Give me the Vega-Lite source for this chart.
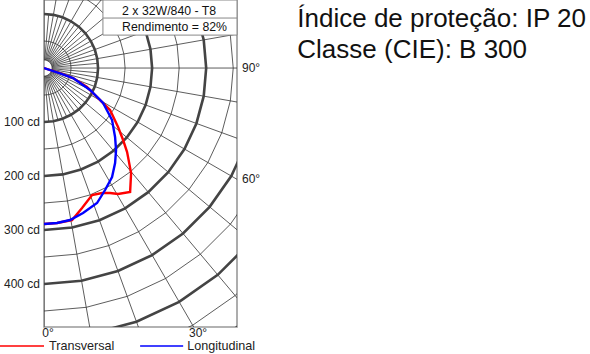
{
  "$schema": "https://vega.github.io/schema/vega-lite/v6.json",
  "width": 193,
  "height": 327,
  "autosize": "none",
  "padding": {"left": 44, "top": 0, "right": 353, "bottom": 27},
  "background": "white",
  "config": {"view": {"stroke": "#999999", "strokeWidth": 1.6}, "font": "Liberation Sans", "text": {"font": "Liberation Sans"}},
  "datasets": {
    "circles": [
      {"g": "c15", "type": "thin", "r": 15, "a": [0,10,20,30,40,50,60,70,80,90,100,110,120,130,140,150,160,170,180]},
      {"g": "c50", "type": "thin", "r": 50, "a": [0,10,20,30,40,50,60,70,80,90,100,110,120,130,140,150,160,170,180]},
      {"g": "c150", "type": "thin", "r": 150, "a": [0,10,20,30,40,50,60,70,80,90,100,110,120,130,140,150,160,170,180]},
      {"g": "c250", "type": "thin", "r": 250, "a": [0,10,20,30,40,50,60,70,80,90,100,110,120,130,140,150,160,170,180]},
      {"g": "c350", "type": "thin", "r": 350, "a": [0,10,20,30,40,50,60,70,80,90,100,110,120,130,140,150,160,170,180]},
      {"g": "c450", "type": "thin", "r": 450, "a": [0,10,20,30,40,50,60,70,80,90,100,110,120,130,140,150,160,170,180]},
      {"g": "c550", "type": "thin", "r": 550, "a": [0,10,20,30,40,50,60,70,80,90,100,110,120,130,140,150,160,170,180]},
      {"g": "c650", "type": "thin", "r": 650, "a": [0,10,20,30,40,50,60,70,80,90,100,110,120,130,140,150,160,170,180]},
      {"g": "c100", "type": "thick", "r": 100, "a": [0,10,20,30,40,50,60,70,80,90,100,110,120,130,140,150,160,170,180]},
      {"g": "c200", "type": "thick", "r": 200, "a": [0,10,20,30,40,50,60,70,80,90,100,110,120,130,140,150,160,170,180]},
      {"g": "c300", "type": "thick", "r": 300, "a": [0,10,20,30,40,50,60,70,80,90,100,110,120,130,140,150,160,170,180]},
      {"g": "c400", "type": "thick", "r": 400, "a": [0,10,20,30,40,50,60,70,80,90,100,110,120,130,140,150,160,170,180]},
      {"g": "c500", "type": "thick", "r": 500, "a": [0,10,20,30,40,50,60,70,80,90,100,110,120,130,140,150,160,170,180]},
      {"g": "c600", "type": "thick", "r": 600, "a": [0,10,20,30,40,50,60,70,80,90,100,110,120,130,140,150,160,170,180]}
    ],
    "rays": [
      {"g": "r0", "a": 0, "r": [15, 700]}, {"g": "r10", "a": 10, "r": [15, 700]}, {"g": "r20", "a": 20, "r": [15, 700]},
      {"g": "r30", "a": 30, "r": [15, 700]}, {"g": "r40", "a": 40, "r": [15, 700]}, {"g": "r50", "a": 50, "r": [15, 700]},
      {"g": "r60", "a": 60, "r": [15, 700]}, {"g": "r70", "a": 70, "r": [15, 700]}, {"g": "r80", "a": 80, "r": [15, 700]},
      {"g": "r90", "a": 90, "r": [15, 700]}, {"g": "r100", "a": 100, "r": [15, 700]}, {"g": "r110", "a": 110, "r": [15, 700]},
      {"g": "r120", "a": 120, "r": [15, 700]}, {"g": "r130", "a": 130, "r": [15, 700]}, {"g": "r140", "a": 140, "r": [15, 700]},
      {"g": "r150", "a": 150, "r": [15, 700]}, {"g": "r160", "a": 160, "r": [15, 700]}, {"g": "r170", "a": 170, "r": [15, 700]},
      {"g": "r180", "a": 180, "r": [15, 700]},
      {"g": "r5", "a": 5, "r": [15, 100]}, {"g": "r15", "a": 15, "r": [15, 100]}, {"g": "r25", "a": 25, "r": [15, 100]},
      {"g": "r35", "a": 35, "r": [15, 100]}, {"g": "r45", "a": 45, "r": [15, 100]}, {"g": "r55", "a": 55, "r": [15, 100]},
      {"g": "r65", "a": 65, "r": [15, 100]}, {"g": "r75", "a": 75, "r": [15, 100]}, {"g": "r85", "a": 85, "r": [15, 100]},
      {"g": "r95", "a": 95, "r": [15, 100]}, {"g": "r105", "a": 105, "r": [15, 100]}, {"g": "r115", "a": 115, "r": [15, 100]},
      {"g": "r125", "a": 125, "r": [15, 100]}, {"g": "r135", "a": 135, "r": [15, 100]}, {"g": "r145", "a": 145, "r": [15, 100]},
      {"g": "r155", "a": 155, "r": [15, 100]}, {"g": "r165", "a": 165, "r": [15, 100]}, {"g": "r175", "a": 175, "r": [15, 100]}
    ],
    "curves": [
      {"s": "Transversal", "x": 0, "y": 0},
      {"s": "Transversal", "x": 29.6, "y": -9.3},
      {"s": "Transversal", "x": 53.7, "y": -18.5},
      {"s": "Transversal", "x": 79.6, "y": -35.2},
      {"s": "Transversal", "x": 98.1, "y": -53.7},
      {"s": "Transversal", "x": 122.2, "y": -77.8},
      {"s": "Transversal", "x": 137, "y": -109.3},
      {"s": "Transversal", "x": 146.3, "y": -133.3},
      {"s": "Transversal", "x": 153.7, "y": -155.6},
      {"s": "Transversal", "x": 161.1, "y": -194.4},
      {"s": "Transversal", "x": 159.3, "y": -229.6},
      {"s": "Transversal", "x": 137, "y": -233.3},
      {"s": "Transversal", "x": 122.2, "y": -231.5},
      {"s": "Transversal", "x": 107.4, "y": -231.5},
      {"s": "Transversal", "x": 88.9, "y": -235.2},
      {"s": "Transversal", "x": 70.4, "y": -259.3},
      {"s": "Transversal", "x": 51.9, "y": -281.5},
      {"s": "Transversal", "x": 24.1, "y": -287},
      {"s": "Transversal", "x": 0, "y": -288.9},
      {"s": "Longitudinal", "x": 0, "y": 0},
      {"s": "Longitudinal", "x": 29.6, "y": -9.8},
      {"s": "Longitudinal", "x": 53.7, "y": -18.5},
      {"s": "Longitudinal", "x": 85.2, "y": -40.7},
      {"s": "Longitudinal", "x": 109.3, "y": -64.8},
      {"s": "Longitudinal", "x": 125.9, "y": -96.3},
      {"s": "Longitudinal", "x": 131.5, "y": -127.8},
      {"s": "Longitudinal", "x": 133.3, "y": -151.9},
      {"s": "Longitudinal", "x": 131.5, "y": -175.9},
      {"s": "Longitudinal", "x": 125.9, "y": -201.9},
      {"s": "Longitudinal", "x": 113, "y": -225.9},
      {"s": "Longitudinal", "x": 98.1, "y": -250},
      {"s": "Longitudinal", "x": 72.2, "y": -268.5},
      {"s": "Longitudinal", "x": 48.1, "y": -281.5},
      {"s": "Longitudinal", "x": 24.1, "y": -287},
      {"s": "Longitudinal", "x": 0, "y": -288.9}
    ],
    "legend": [
      {"s": "Transversal", "x1": -81.5, "x2": 0, "y": -514.8, "tx": 9.3},
      {"s": "Longitudinal", "x1": 177.8, "x2": 257.4, "y": -514.8, "tx": 264.8}
    ],
    "cdlabels": [
      {"t": "100 cd", "x": 0, "y": -100},
      {"t": "200 cd", "x": 0, "y": -200},
      {"t": "300 cd", "x": 0, "y": -300},
      {"t": "400 cd", "x": 0, "y": -400}
    ],
    "anglesBottom": [
      {"t": "0°", "x": 7.4, "y": -479.6},
      {"t": "30°", "x": 285, "y": -479.6}
    ],
    "anglesRight": [
      {"t": "90°", "x": 357, "y": 0},
      {"t": "60°", "x": 357, "y": -206}
    ],
    "box": [{"x1": 109, "x2": 357, "y1": 61, "y2": 126, "yd": 92.6}],
    "boxText": [
      {"t": "2 x 32W/840 - T8", "x": 144.4, "y": 105.6},
      {"t": "Rendimento = 82%", "x": 144.4, "y": 75.9}
    ],
    "info": [
      {"t": "Índice de proteção: IP 20", "x": 468.5, "y": 76.9},
      {"t": "Classe (CIE): B 300", "x": 468.5, "y": 18.5}
    ]
  },
  "layer": [
    {
      "data": {"name": "circles"},
      "transform": [
        {"filter": "datum.type === 'thin'"},
        {"flatten": ["a"]},
        {"calculate": "datum.r*sin(datum.a*PI/180)", "as": "px"},
        {"calculate": "-datum.r*cos(datum.a*PI/180)", "as": "py"}
      ],
      "mark": {"type": "line", "clip": true, "stroke": "#333333", "strokeWidth": 0.8},
      "encoding": {
        "x": {"field": "px", "type": "quantitative", "scale": {"domain": [0, 357], "nice": false, "zero": false}, "axis": null},
        "y": {"field": "py", "type": "quantitative", "scale": {"domain": [-479.6, 126], "nice": false, "zero": false}, "axis": null},
        "detail": {"field": "g"},
        "order": {"value": null}
      }
    },
    {
      "data": {"name": "rays"},
      "transform": [
        {"flatten": ["r"]},
        {"calculate": "datum.r*sin(datum.a*PI/180)", "as": "px"},
        {"calculate": "-datum.r*cos(datum.a*PI/180)", "as": "py"}
      ],
      "mark": {"type": "line", "clip": true, "stroke": "#333333", "strokeWidth": 0.8},
      "encoding": {
        "x": {"field": "px", "type": "quantitative"},
        "y": {"field": "py", "type": "quantitative"},
        "detail": {"field": "g"},
        "order": {"value": null}
      }
    },
    {
      "data": {"name": "circles"},
      "transform": [
        {"filter": "datum.type === 'thick'"},
        {"flatten": ["a"]},
        {"calculate": "datum.r*sin(datum.a*PI/180)", "as": "px"},
        {"calculate": "-datum.r*cos(datum.a*PI/180)", "as": "py"}
      ],
      "mark": {"type": "line", "clip": true, "stroke": "#444444", "strokeWidth": 2.6},
      "encoding": {
        "x": {"field": "px", "type": "quantitative"},
        "y": {"field": "py", "type": "quantitative"},
        "detail": {"field": "g"},
        "order": {"value": null}
      }
    },
    {
      "data": {"name": "box"},
      "mark": {"type": "rect", "fill": "white", "stroke": "#888888", "strokeWidth": 1},
      "encoding": {
        "x": {"field": "x1", "type": "quantitative"},
        "x2": {"field": "x2"},
        "y": {"field": "y1", "type": "quantitative"},
        "y2": {"field": "y2"}
      }
    },
    {
      "data": {"name": "box"},
      "mark": {"type": "rule", "stroke": "#888888", "strokeWidth": 1},
      "encoding": {
        "x": {"field": "x1", "type": "quantitative"},
        "x2": {"field": "x2"},
        "y": {"field": "yd", "type": "quantitative"}
      }
    },
    {
      "data": {"name": "boxText"},
      "mark": {"type": "text", "align": "left", "baseline": "middle", "fontSize": 12.3, "color": "#111111"},
      "encoding": {
        "x": {"field": "x", "type": "quantitative"},
        "y": {"field": "y", "type": "quantitative"},
        "text": {"field": "t"}
      }
    },
    {
      "data": {"name": "curves"},
      "mark": {"type": "line", "strokeWidth": 2.4, "clip": true},
      "encoding": {
        "x": {"field": "x", "type": "quantitative"},
        "y": {"field": "y", "type": "quantitative"},
        "color": {"field": "s", "type": "nominal", "scale": {"domain": ["Transversal", "Longitudinal"], "range": ["#ff0000", "#0000ff"]}, "legend": null},
        "order": {"value": null}
      }
    },
    {
      "data": {"name": "legend"},
      "mark": {"type": "rule", "strokeWidth": 1.6},
      "encoding": {
        "x": {"field": "x1", "type": "quantitative"},
        "x2": {"field": "x2"},
        "y": {"field": "y", "type": "quantitative"},
        "color": {"field": "s", "type": "nominal", "legend": null}
      }
    },
    {
      "data": {"name": "legend"},
      "mark": {"type": "text", "align": "left", "baseline": "middle", "fontSize": 12.6, "color": "#222222"},
      "encoding": {
        "x": {"field": "tx", "type": "quantitative"},
        "y": {"field": "y", "type": "quantitative"},
        "text": {"field": "s"}
      }
    },
    {
      "data": {"name": "cdlabels"},
      "mark": {"type": "text", "align": "right", "baseline": "middle", "dx": -4, "fontSize": 12, "color": "#222222"},
      "encoding": {
        "x": {"field": "x", "type": "quantitative"},
        "y": {"field": "y", "type": "quantitative"},
        "text": {"field": "t"}
      }
    },
    {
      "data": {"name": "anglesBottom"},
      "mark": {"type": "text", "align": "center", "baseline": "top", "dy": 1, "fontSize": 12, "color": "#222222"},
      "encoding": {
        "x": {"field": "x", "type": "quantitative"},
        "y": {"field": "y", "type": "quantitative"},
        "text": {"field": "t"}
      }
    },
    {
      "data": {"name": "anglesRight"},
      "mark": {"type": "text", "align": "left", "baseline": "middle", "dx": 5, "fontSize": 12, "color": "#222222"},
      "encoding": {
        "x": {"field": "x", "type": "quantitative"},
        "y": {"field": "y", "type": "quantitative"},
        "text": {"field": "t"}
      }
    },
    {
      "data": {"name": "info"},
      "mark": {"type": "text", "align": "left", "baseline": "alphabetic", "fontSize": 26, "color": "#111111"},
      "encoding": {
        "x": {"field": "x", "type": "quantitative"},
        "y": {"field": "y", "type": "quantitative"},
        "text": {"field": "t"}
      }
    }
  ]
}
